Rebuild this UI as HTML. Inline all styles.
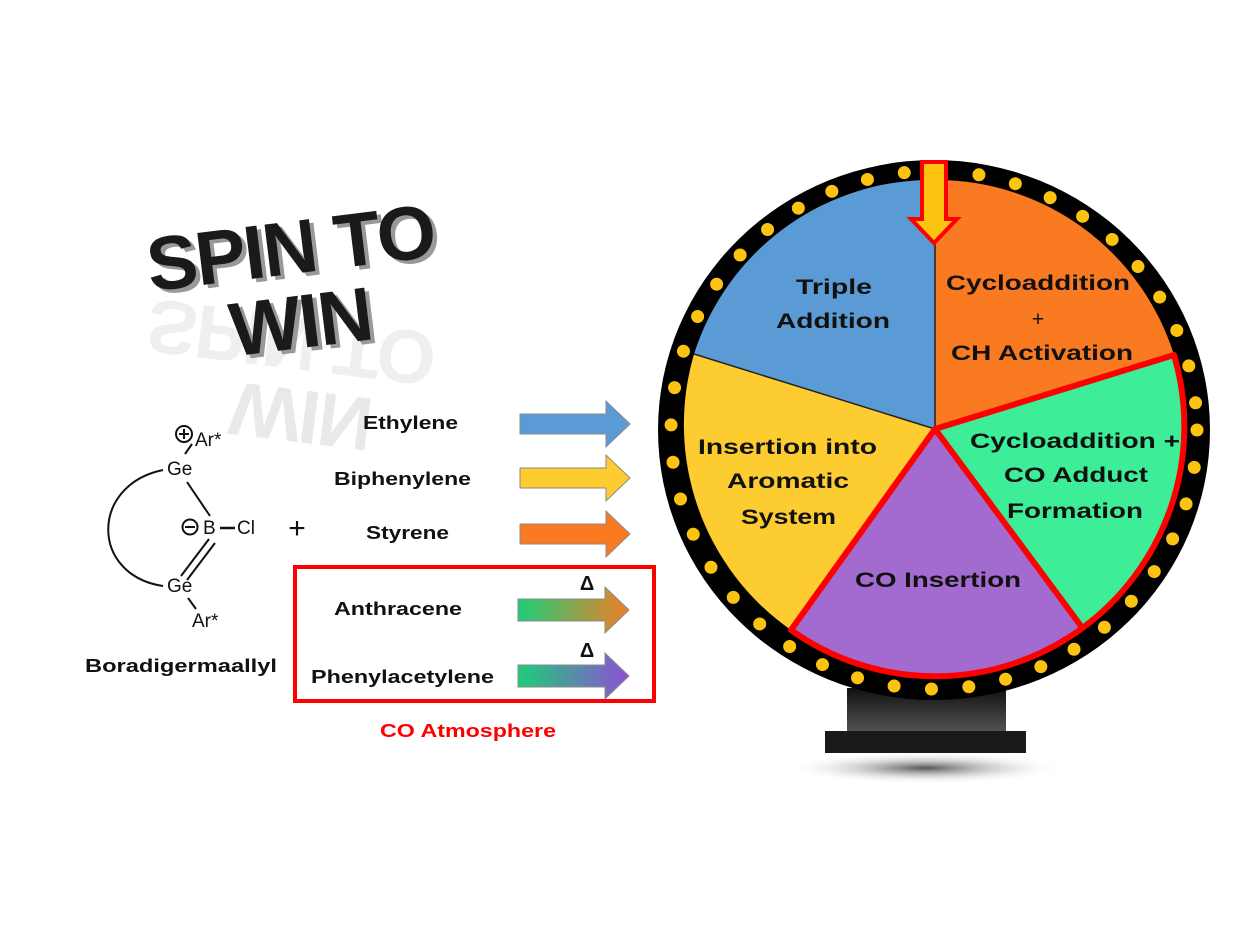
<!DOCTYPE html>
<html><head><meta charset="utf-8"><style>
html,body{margin:0;padding:0;background:#fff;}
svg{display:block;}
text{font-family:"Liberation Sans",sans-serif;}
.b{font-weight:bold;}
</style></head><body>
<svg width="1260" height="936" viewBox="0 0 1260 936" xmlns="http://www.w3.org/2000/svg">
<defs>
<linearGradient id="g1" x1="0" x2="1"><stop offset="0" stop-color="#1fcd78"/><stop offset="1" stop-color="#ef7f26"/></linearGradient>
<linearGradient id="g2" x1="0" x2="1"><stop offset="0" stop-color="#1fcd78"/><stop offset="1" stop-color="#8d4fd6"/></linearGradient>
<radialGradient id="sh"><stop offset="0" stop-color="#555"/><stop offset="1" stop-color="#fff" stop-opacity="0"/></radialGradient>
<linearGradient id="stand" x1="0" y1="0" x2="0" y2="1"><stop offset="0" stop-color="#111"/><stop offset="1" stop-color="#555"/></linearGradient>
</defs>

<!-- Title -->
<g transform="rotate(-7 290 245)">
<text x="294" y="278" text-anchor="middle" font-size="76" class="b" fill="#999" letter-spacing="-2">SPIN TO</text>
<text x="290" y="274" text-anchor="middle" font-size="76" class="b" fill="#1a1a1a" letter-spacing="-2">SPIN TO</text>
</g>
<g transform="translate(0,590) scale(1,-1) rotate(-7 290 245)" opacity="0.07"><text x="290" y="274" text-anchor="middle" font-size="76" class="b" fill="#333" letter-spacing="-2">SPIN TO</text></g>
<g transform="rotate(-7 300 320)">
<text x="304" y="352" text-anchor="middle" font-size="76" class="b" fill="#999" letter-spacing="-2">WIN</text>
<text x="300" y="348" text-anchor="middle" font-size="76" class="b" fill="#1a1a1a" letter-spacing="-2">WIN</text>
</g>
<g transform="translate(0,738) scale(1,-1) rotate(-7 300 320)" opacity="0.1"><text x="300" y="348" text-anchor="middle" font-size="76" class="b" fill="#333" letter-spacing="-2">WIN</text></g>

<!-- Structure -->
<g font-size="19" fill="#111">
<circle cx="184" cy="434" r="8" fill="none" stroke="#111" stroke-width="2"/><path d="M179 434h10M184 429v10" stroke="#111" stroke-width="2"/>
<text x="195" y="446">Ar*</text>
<line x1="192" y1="444" x2="185" y2="454" stroke="#111" stroke-width="2"/>
<text x="167" y="475">Ge</text>
<line x1="187" y1="482" x2="210" y2="516" stroke="#111" stroke-width="2"/>
<circle cx="190" cy="527" r="7.5" fill="none" stroke="#111" stroke-width="2"/><path d="M185 527h10" stroke="#111" stroke-width="2"/>
<text x="203" y="534">B</text><line x1="220" y1="528" x2="235" y2="528" stroke="#111" stroke-width="2.5"/><text x="237" y="534">Cl</text>
<path d="M209 539 L181 576 M215 543 L187 580" stroke="#111" stroke-width="2"/>
<text x="167" y="592">Ge</text>
<line x1="188" y1="598" x2="196" y2="609" stroke="#111" stroke-width="2"/>
<text x="192" y="627">Ar*</text>
<path d="M163 470 C90 485 90 575 163 586" fill="none" stroke="#111" stroke-width="2"/>
<text x="297" y="538" font-size="30" text-anchor="middle">+</text>
</g>
<text x="85" y="672" font-size="18" class="b" fill="#111" textLength="192" lengthAdjust="spacingAndGlyphs">Boradigermaallyl</text>

<!-- Reagents -->
<g font-size="18" class="b" fill="#111">
<text x="363" y="429" textLength="95" lengthAdjust="spacingAndGlyphs">Ethylene</text>
<text x="334" y="485" textLength="137" lengthAdjust="spacingAndGlyphs">Biphenylene</text>
<text x="366" y="539" textLength="83" lengthAdjust="spacingAndGlyphs">Styrene</text>
<text x="334" y="615" textLength="128" lengthAdjust="spacingAndGlyphs">Anthracene</text>
<text x="311" y="683" textLength="183" lengthAdjust="spacingAndGlyphs">Phenylacetylene</text>
</g>
<g stroke="#8a8a8a" stroke-width="1">
<path d="M520 414H606V401L630 424L606 447V434H520Z" fill="#5b9bd5"/>
<path d="M520 468H606V455L630 478L606 501V488H520Z" fill="#fccc30"/>
<path d="M520 524H606V511L630 534L606 557V544H520Z" fill="#f97a20"/>
<path d="M518 599H605V587L629 610L605 633V621H518Z" fill="url(#g1)"/>
<path d="M518 665H605V653L629 676L605 699V687H518Z" fill="url(#g2)"/>
</g>
<text x="587" y="590" font-size="20" class="b" text-anchor="middle" fill="#111">Δ</text>
<text x="587" y="657" font-size="20" class="b" text-anchor="middle" fill="#111">Δ</text>
<rect x="295" y="567" width="359" height="134" fill="none" stroke="#f00" stroke-width="4"/>
<text x="380" y="737" font-size="18" class="b" fill="#f00" textLength="176" lengthAdjust="spacingAndGlyphs">CO Atmosphere</text>

<!-- Stand -->
<ellipse cx="925" cy="768" rx="140" ry="16" fill="url(#sh)"/>
<rect x="847" y="688" width="159" height="45" fill="url(#stand)"/>
<rect x="825" y="731" width="201" height="22" fill="#1a1a1a"/>

<!-- Wheel -->
<ellipse cx="934" cy="430" rx="276" ry="270" fill="#000"/>
<ellipse cx="934" cy="430" rx="263" ry="259" fill="none" stroke="#fcc410" stroke-width="13" stroke-linecap="round" stroke-dasharray="0 37.5"/>
<path d="M935 429 L935 180 A249 250 0 0 0 694 354 Z" fill="#5b9bd5"/>
<path d="M935 429 L935 180 A249 250 0 0 1 1174 355 Z" fill="#f97a20"/>
<path d="M935 429 L694 354 A249 250 0 0 0 791 630 Z" fill="#fccc30"/>
<path d="M935 429 L1174 355 A249 250 0 0 1 1081 626 Z" fill="#3ded98"/>
<path d="M935 429 L1081 626 A249 250 0 0 1 791 630 Z" fill="#a36ad0"/>
<path d="M935 429 L935 180 M935 429 L694 354" stroke="#222" stroke-width="1.5"/>
<path d="M935 429 L1174 355 A249 250 0 0 1 791 630 Z M935 429 L1081 626" fill="none" stroke="#f00" stroke-width="6" stroke-linejoin="round"/>
<path d="M922 162H946V219H957L934 243L911 219H922Z" fill="#fcc410" stroke="#f00" stroke-width="4"/>

<g font-size="21" class="b" fill="#111">
<text x="796" y="294" textLength="76" lengthAdjust="spacingAndGlyphs">Triple</text>
<text x="776" y="328" textLength="114" lengthAdjust="spacingAndGlyphs">Addition</text>
<text x="946" y="290" textLength="184" lengthAdjust="spacingAndGlyphs">Cycloaddition</text>
<text x="1038" y="326" font-weight="normal" text-anchor="middle">+</text>
<text x="951" y="360" textLength="182" lengthAdjust="spacingAndGlyphs">CH Activation</text>
<text x="698" y="454" textLength="179" lengthAdjust="spacingAndGlyphs">Insertion into</text>
<text x="727" y="488" textLength="122" lengthAdjust="spacingAndGlyphs">Aromatic</text>
<text x="741" y="524" textLength="95" lengthAdjust="spacingAndGlyphs">System</text>
<text x="970" y="448" textLength="210" lengthAdjust="spacingAndGlyphs">Cycloaddition +</text>
<text x="1004" y="482" textLength="144" lengthAdjust="spacingAndGlyphs">CO Adduct</text>
<text x="1007" y="518" textLength="136" lengthAdjust="spacingAndGlyphs">Formation</text>
<text x="855" y="587" textLength="166" lengthAdjust="spacingAndGlyphs">CO Insertion</text>
</g>
</svg>
</body></html>
